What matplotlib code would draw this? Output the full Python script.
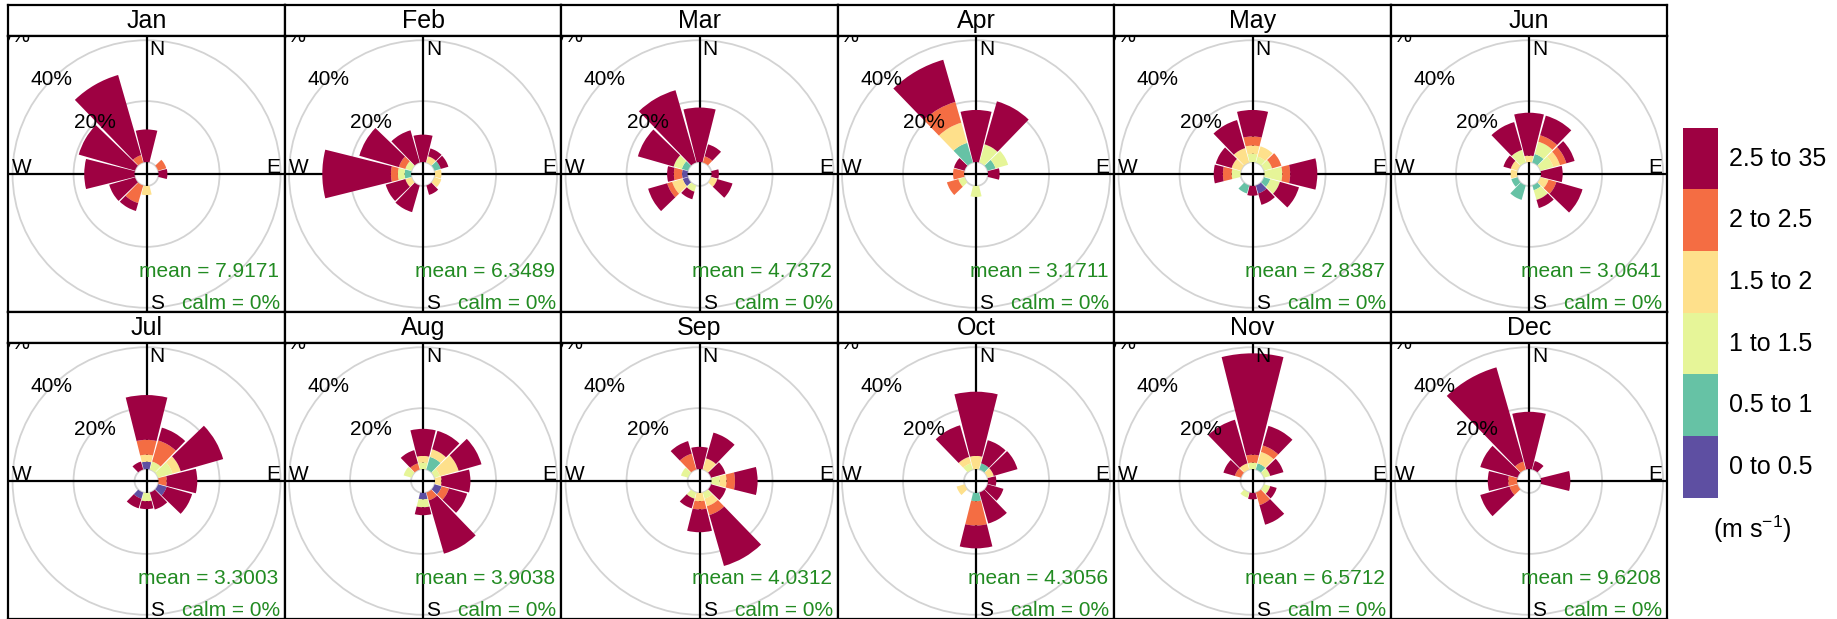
import numpy as np
import matplotlib.pyplot as plt
from matplotlib.patches import Wedge, Circle

plt.rcParams['font.family'] = ['Liberation Sans', 'DejaVu Sans']
plt.rcParams['mathtext.fontset'] = 'custom'
plt.rcParams['mathtext.rm'] = 'Liberation Sans'
plt.rcParams['mathtext.it'] = 'Liberation Sans:italic'

months = ["Jan", "Feb", "Mar", "Apr", "May", "Jun",
          "Jul", "Aug", "Sep", "Oct", "Nov", "Dec"]
means = ["7.9171", "6.3489", "4.7372", "3.1711", "2.8387", "3.0641",
         "3.3003", "3.9038", "4.0312", "4.3056", "6.5712", "9.6208"]
calms = ["0%"] * 12
directions = [0, 30, 60, 90, 120, 150, 180, 210, 240, 270, 300, 330]
speed_labels = ["0 to 0.5", "0.5 to 1", "1 to 1.5", "1.5 to 2", "2 to 2.5", "2.5 to 35"]
colours = ["#5E4FA2", "#66C2A5", "#E6F598", "#FEE08B", "#F46D43", "#9E0142"]
grid_pct = [0, 20, 40, 60]

# % of hours per direction (rows) and speed bin (cols: 0-0.5 ... 2.5-35)
jan = [[0, 0, 0, 0, 0, 10.7], [0, 0, 0, 0, 0, 0], [0, 0, 0, 0, 2.8, 0],
       [0, 0, 0, 0, 0, 2.9], [0, 0, 0, 0, 0, 0], [0, 0, 0, 0, 0, 0],
       [0, 0, 0, 3.0, 0, 0], [0, 0, 0, 0, 6.0, 2.7], [0, 0, 0, 0, 0, 8.8],
       [0, 0, 0, 0, 0, 16.5], [0, 0, 0, 0, 0, 19.2], [0, 0, 0, 0, 2.5, 27.4]]
feb = [[0, 0, 0, 0, 0, 9.0], [0, 0, 0, 2.1, 0, 2.7], [0, 2.1, 0, 0, 0, 2.6],
       [0, 0, 0, 2.1, 0, 0], [0, 0, 0, 2.3, 0, 0], [0, 0, 0, 0, 0, 3.2],
       [0, 0, 0, 0, 0, 0], [0, 0, 0, 0, 0, 9.1], [0, 0, 0, 2.1, 0, 6.7],
       [0, 2.1, 2.2, 0, 2.3, 22.5], [0, 0, 2.1, 0, 2.2, 13.5], [0, 0, 0, 0, 0, 11.0]]
mar = [[0, 0, 0, 0, 0, 17.9], [0, 0, 0, 0, 2.1, 4.1], [0, 0, 0, 0, 0, 0],
       [0, 0, 0, 0, 0, 2.4], [0, 0, 0, 2.1, 0, 5.2], [0, 0, 0, 0, 0, 0],
       [0, 0, 0, 0, 0, 0], [0, 0, 2.1, 0, 0, 2.6], [1.8, 0, 0, 3.6, 1.7, 6.5],
       [1.8, 0, 0, 0, 2.7, 2.2], [0, 2.1, 2.8, 0, 0, 12.2], [0, 0, 0, 0, 0, 24.7]]
apr = [[0, 0, 0, 0, 0, 17.1], [0, 0, 6.2, 0, 0, 14.7], [0, 2.7, 4.3, 0, 0, 0],
       [0, 0, 0, 0, 0, 3.8], [0, 0, 0, 0, 0, 0], [0, 0, 0, 0, 0, 0],
       [0, 0, 3.6, 0, 0, 0], [0, 0, 0, 0, 0, 0], [0, 0, 2.1, 0, 3.9, 0],
       [0, 0, 0, 0, 3.6, 0], [0, 0, 0, 0, 0, 3.6], [0, 6.7, 0, 6.9, 7.1, 14.4]]
may = [[0, 0, 2.7, 2.7, 3.0, 8.7], [0, 0, 2.0, 3.5, 0, 0], [0, 0, 2.7, 0, 3.2, 0],
       [0, 0, 5.8, 0, 2.6, 8.9], [0, 2.1, 3.3, 0, 0, 6.5], [2.7, 0, 0, 0, 0, 3.9],
       [0, 0, 0, 0, 0, 3.2], [0, 2.7, 0, 0, 0, 0], [0, 0, 0, 0, 0, 0],
       [0, 0, 2.9, 0, 2.9, 3.0], [0, 0, 0, 3.2, 0, 5.4], [0, 0, 0, 4.9, 0, 9.6]]
jun = [[0, 0, 0, 2.1, 0, 14.1], [0, 2.9, 4.2, 0, 2.2, 6.7], [0, 0, 4.3, 2.3, 2.2, 2.8],
       [0, 0, 0, 0, 0, 7.1], [0, 0, 0, 2.7, 2.7, 8.9], [0, 1.6, 3.3, 0, 0, 2.8],
       [0, 0, 0, 0, 0, 0], [0, 4.9, 0, 0, 0, 0], [0, 2.1, 0, 0, 0, 0],
       [0, 0, 0, 2.1, 0, 0], [0, 0, 0, 2.3, 0, 2.5], [0, 0, 4.3, 0, 0, 9.5]]
jul = [[2.4, 0, 0, 2.3, 4.9, 14.7], [0, 0, 2.7, 0, 7.2, 4.4], [0, 0, 4.9, 2.8, 0, 14.5],
       [0, 0, 0, 0, 2.7, 10.0], [2.9, 0, 0, 0, 0, 8.7], [0, 0, 0, 0, 0, 5.8],
       [0, 0, 2.7, 0, 0, 2.6], [2.1, 0, 0, 0, 0, 3.3], [0, 0, 0, 0, 0, 0],
       [0, 0, 0, 0, 0, 0], [0, 0, 0, 0, 0, 0], [0, 0, 0, 0, 0, 2.7]]
aug = [[0, 0, 2.1, 2.2, 0, 8.9], [0, 4.3, 0, 2.6, 0, 6.3], [0, 0, 1.8, 6.4, 0, 7.8],
       [0, 0, 0, 2.1, 0, 9.5], [2.4, 0, 0, 0, 2.5, 6.2], [0, 0, 0, 0, 2.7, 18.2],
       [2.1, 0, 2.6, 0, 0, 2.6], [0, 0, 0, 0, 0, 0], [0, 0, 0, 0, 0, 0],
       [0, 0, 0, 0, 0, 0], [0, 0, 2.7, 0, 0, 0], [0, 0, 0, 0, 2.1, 4.5]]
sep = [[0, 0, 0, 0, 0, 7.3], [0, 0, 0, 3.8, 0, 8.8], [0, 0, 0, 0, 0, 4.9],
       [0, 0, 2.7, 2.2, 2.8, 7.4], [0, 0, 0, 0, 0, 5.1], [0, 0, 2.1, 2.6, 3.0, 17.4],
       [0, 0, 0, 2.7, 2.7, 7.5], [0, 0, 2.1, 0, 0, 3.3], [0, 0, 0, 0, 0, 0],
       [0, 0, 0, 0, 0, 0], [0, 0, 2.4, 0, 0, 0], [0, 0, 0, 0, 5.4, 4.3]]
oct_ = [[0, 0, 0, 4.3, 0, 21.1], [0, 2.1, 0, 0, 0, 7.9], [0, 0, 0, 2.1, 0, 8.1],
        [0, 0, 0, 0, 0, 2.7], [0, 0, 0, 0, 0, 5.4], [0, 0, 0, 0, 0, 10.6],
        [0, 2.7, 0, 0, 8.0, 7.5], [0, 0, 0, 0, 0, 0], [0, 0, 0, 2.7, 0, 0],
        [0, 0, 0, 0, 0, 0], [0, 0, 0, 0, 0, 0], [0, 0, 2.1, 2.2, 0, 10.8]]
nov = [[0, 0, 2.1, 0, 2.6, 33.3], [0, 2.1, 0, 3.9, 2.2, 6.7], [0, 0, 2.1, 0, 0, 4.5],
       [0, 0, 0, 0, 0, 0], [0, 0, 2.1, 0, 0, 2.2], [0, 0, 0, 0, 4.3, 6.7],
       [0, 0, 0, 0, 0, 2.1], [0, 0, 1.8, 0, 0, 0], [0, 0, 0, 0, 0, 0],
       [0, 0, 0, 0, 0, 0], [0, 0, 0, 0, 2.1, 3.9], [0, 0, 0, 2.1, 0, 14.9]]
dec = [[0, 0, 0, 0, 0, 18.8], [0, 0, 0, 0, 0, 2.9], [0, 0, 0, 0, 0, 0],
       [0, 0, 0, 0, 0, 9.6], [0, 0, 0, 0, 0, 0], [0, 0, 0, 0, 0, 0],
       [0, 0, 0, 0, 0, 0], [0, 0, 0, 0, 0, 0], [0, 0, 0, 0, 2.7, 10.0],
       [0, 0, 0, 0, 2.9, 6.7], [0, 0, 0, 0, 0, 12.7], [0, 0, 0, 0, 2.7, 32.2]]
roses = [jan, feb, mar, apr, may, jun, jul, aug, sep, oct_, nov, dec]

W, H = 1837, 619
fig = plt.figure(figsize=(W / 100, H / 100), dpi=100)


def px_axes(x, y, w, h):
    return fig.add_axes([x / W, 1 - (y + h) / H, w / W, h / H])


left0, pw, ph, sh = 8.3, 276.5, 276, 31
row_tops = [5, 312]
k = 3.05            # pixels per percent
off = 12 / k        # hole in the middle
L = pw / 2 / k

for i, m in enumerate(months):
    r, c = divmod(i, 6)
    x0 = left0 + c * pw
    y0 = row_tops[r]
    st = px_axes(x0, y0, pw, sh)
    st.set_xticks([]); st.set_yticks([])
    for s in st.spines.values():
        s.set_linewidth(1.6)
    st.text(0.5, 0.47, m, ha='center', va='center', fontsize=18, transform=st.transAxes)

    ax = px_axes(x0, y0 + sh, pw, ph)
    ax.set_xlim(-L, L); ax.set_ylim(-L, L)
    ax.set_xticks([]); ax.set_yticks([])
    for s in ax.spines.values():
        s.set_linewidth(1.6)
    for p in grid_pct:
        ax.add_patch(Circle((0, 0), off + p, fill=False, ec='#D3D3D3', lw=1.3, zorder=1))
    ax.axhline(0, color='black', lw=1.6, zorder=2)
    ax.axvline(0, color='black', lw=1.6, zorder=2)

    data = np.array(roses[i])
    for d, row in zip(directions, data):
        cum = 0.0
        for v, col in zip(row, colours):
            if v <= 0:
                continue
            ax.add_patch(Wedge((0, 0), off + cum + v, 90 - d - 14, 90 - d + 14,
                               width=v, fc=col, ec='none', zorder=3))
            cum += v

    for p in grid_pct[1:]:
        rr = (off + p) / np.sqrt(2)
        ax.text(-rr, rr, f"{p}%", ha='center', va='center', fontsize=15,
                zorder=4, clip_on=True)
    ax.text(1.0, L - 1.2, "N", ha='left', va='top', fontsize=15, zorder=4)
    ax.text(1.0, -L + 0.9, "S", ha='left', va='baseline', fontsize=15, zorder=4)
    ax.text(L - 1.6, 0.4, "E", ha='right', va='baseline', fontsize=15, zorder=4)
    ax.text(-L + 1.2, 0.4, "W", ha='left', va='baseline', fontsize=15, zorder=4)
    ax.text(0.978, 0.127, f"mean = {means[i]}", ha='right', va='baseline',
            fontsize=15, color='forestgreen', transform=ax.transAxes, zorder=4)
    ax.text(0.982, 0.012, f"calm = {calms[i]}", ha='right', va='baseline',
            fontsize=15, color='forestgreen', transform=ax.transAxes, zorder=4)

# speed legend
lg = px_axes(1683, 127.7, 35, 370)
lg.bar([0] * 6, [1] * 6, bottom=np.arange(6), color=colours, width=1)
lg.set_xlim(-0.5, 0.5); lg.set_ylim(0, 6)
lg.axis('off')
for j, lab in enumerate(speed_labels):
    lg.text(1.31, j + 0.5, lab, ha='left', va='center', fontsize=18,
            transform=lg.get_yaxis_transform())
fig.text(1752 / W, 1 - 529 / H, "(m s$^{-1}$)", ha='center', va='center', fontsize=18)

fig.savefig("out.png", dpi=100)
